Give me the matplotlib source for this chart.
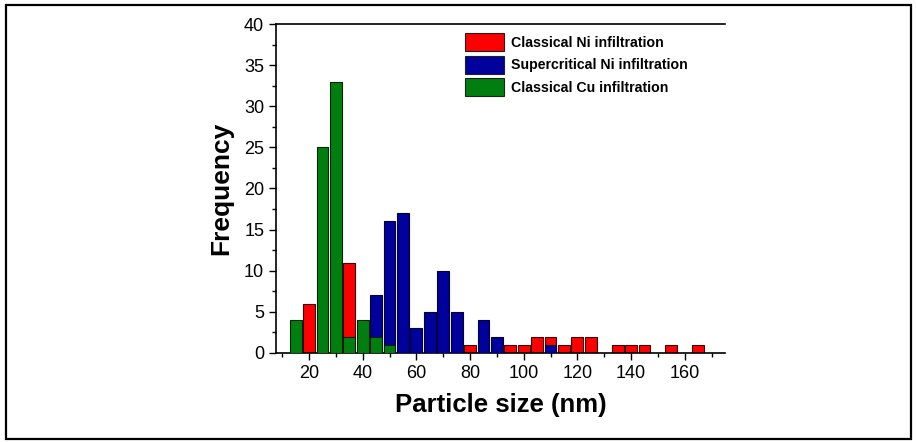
import matplotlib
matplotlib.use("Agg")
import matplotlib.pyplot as plt
from matplotlib.patches import Rectangle
from matplotlib.ticker import MultipleLocator

plt.rcParams['font.family'] = ['Liberation Sans', 'DejaVu Sans']

# Data: bin centers (nm) and frequencies
ni_classical_x = [20, 35, 80, 95, 100, 105, 110, 115, 120, 125, 135, 140, 145, 155, 165]
ni_classical_y = [6, 11, 1, 1, 1, 2, 2, 1, 2, 2, 1, 1, 1, 1, 1]

ni_super_x = [45, 50, 55, 60, 65, 70, 75, 85, 90, 110]
ni_super_y = [7, 16, 17, 3, 5, 10, 5, 4, 2, 1]

cu_classical_x = [15, 25, 30, 35, 40, 45, 50]
cu_classical_y = [4, 25, 33, 2, 4, 2, 1]

labels = ["Classical Ni infiltration", "Supercritical Ni infiltration", "Classical Cu infiltration"]
colors = ["#ff0000", "#00009c", "#007f10"]
xtick_vals = [20, 40, 60, 80, 100, 120, 140, 160]

fig = plt.figure(figsize=(9.17, 4.42), dpi=100)
ax = fig.add_axes([0.301, 0.2014, 0.4896, 0.7443])

w = 4.4
ax.bar(ni_classical_x, ni_classical_y, width=w, color=colors[0], edgecolor="#3a0000", linewidth=0.8, label=labels[0], zorder=2)
ax.bar(ni_super_x, ni_super_y, width=w, color=colors[1], edgecolor="#000030", linewidth=0.8, label=labels[1], zorder=3)
ax.bar(cu_classical_x, cu_classical_y, width=w, color=colors[2], edgecolor="#002000", linewidth=0.8, label=labels[2], zorder=4)

ax.set_xlim(7.7, 175)
ax.set_ylim(0, 40)
ax.set_xticks(xtick_vals)
ax.set_xticklabels([str(v) for v in xtick_vals])
ax.xaxis.set_minor_locator(MultipleLocator(10))
ax.yaxis.set_major_locator(MultipleLocator(5))
ax.yaxis.set_minor_locator(MultipleLocator(2.5))
ax.tick_params(axis='both', which='major', direction='out', length=5, width=1, labelsize=13, colors='black')
ax.tick_params(axis='both', which='minor', direction='out', length=3, width=1)
ax.tick_params(top=False, right=False, which='both')
ax.spines['right'].set_visible(False)
for s in ['left', 'top', 'bottom']:
    ax.spines[s].set_linewidth(1.2)

ax.set_xlabel("Particle size (nm)", fontsize=18.5, fontweight='bold', labelpad=8)
ax.set_ylabel("Frequency", fontsize=19, fontweight='bold', labelpad=8)

leg = ax.legend(loc='upper left', bbox_to_anchor=(0.42, 0.972), frameon=False,
                prop={'weight': 'bold', 'size': 10.2}, handlelength=2.8, handleheight=1.6,
                labelspacing=0.3, handletextpad=0.45, borderpad=0, borderaxespad=0)
for p in leg.get_patches():
    p.set_edgecolor('#202020')
    p.set_linewidth(0.8)

# outer frame around the figure
fig.patches.append(Rectangle((6 / 917, 3 / 442), 905 / 917, 434 / 442, transform=fig.transFigure,
                             fill=False, edgecolor='black', linewidth=1.6))

fig.savefig("out.png", dpi=100)
